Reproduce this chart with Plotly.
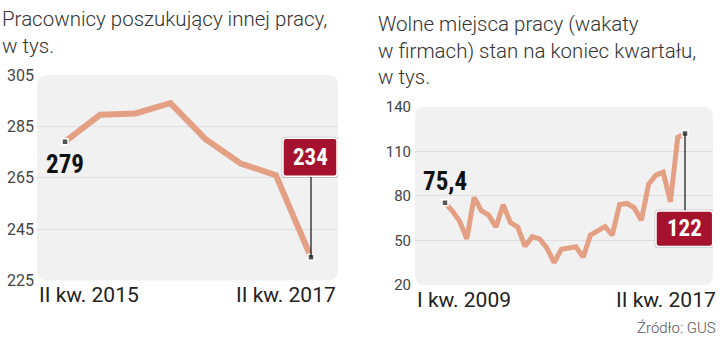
import plotly.graph_objects as go

# ---------------- data ----------------
left_title = "Pracownicy poszukujący innej pracy,<br>w tys."
left_values = [279, 289.5, 290, 294, 280, 270.5, 266, 234]
left_ticks = [225, 245, 265, 285, 305]
left_xlabels = ["II kw. 2015", "II kw. 2017"]
left_first_label = "279"
left_last_label = "234"

right_title = "Wolne miejsca pracy (wakaty<br>w firmach) stan na koniec kwartału,<br>w tys."
right_values = [75.4, 70, 63, 51, 79, 70, 67, 59, 74, 62, 59, 46, 52.5, 51, 45,
                35, 44, 44.7, 45.7, 38.7, 53.6, 56.4, 59.4, 53.6, 74.2, 74.9, 72.1,
                63.6, 88, 94, 96, 76, 119.5, 122]
right_ticks = [20, 50, 80, 110, 140]
right_xlabels = ["I kw. 2009", "II kw. 2017"]
right_first_label = "75,4"
right_last_label = "122"

source = "Źródło: GUS"

# ---------------- style ----------------
W, H = 720, 351
LINE = "#e3a084"
BG = "#f1f1f1"
GRID = "#dedede"
RED = "#a5122d"
TXT = "#333333"
FONT = "Roboto"
LIGHT = "Roboto Light, Roboto"
BOLD = "Roboto Condensed, DejaVu Sans Condensed, Roboto"

def px_x(p):
    return p / W

def px_y(p):
    return (H - p) / H

fig = go.Figure()

lx = list(range(len(left_values)))
rx = list(range(len(right_values)))

fig.add_trace(go.Scatter(x=lx, y=left_values, mode="lines",
                         line=dict(color=LINE, width=6), xaxis="x", yaxis="y",
                         hoverinfo="skip"))
fig.add_trace(go.Scatter(x=[lx[0], lx[-1]], y=[left_values[0], left_values[-1]], mode="markers",
                         marker=dict(symbol="square", size=6, color="#555555",
                                     line=dict(color="white", width=1.5)),
                         xaxis="x", yaxis="y", hoverinfo="skip"))
fig.add_trace(go.Scatter(x=rx, y=right_values, mode="lines",
                         line=dict(color=LINE, width=5), xaxis="x2", yaxis="y2",
                         hoverinfo="skip"))
fig.add_trace(go.Scatter(x=[rx[0], rx[-1]], y=[right_values[0], right_values[-1]], mode="markers",
                         marker=dict(symbol="square", size=6, color="#555555",
                                     line=dict(color="white", width=1.5)),
                         xaxis="x2", yaxis="y2", hoverinfo="skip"))

# axis geometry (pixels)
L_left, L_right, L_top, L_bot = 37, 338, 69.7, 287
R_left, R_right, R_top, R_bot = 415, 713, 103.5, 291.7
L_first_px, L_last_px = 65, 311
R_first_px, R_last_px = 445, 685

def xrange_for(n, first_px, last_px, left_px, right_px):
    step = (last_px - first_px) / (n - 1)
    return [(left_px - first_px) / step, (n - 1) + (right_px - last_px) / step]

axis_common = dict(showline=False, zeroline=False, ticks="", fixedrange=True)

fig.update_layout(
    width=W, height=H, margin=dict(l=0, r=0, t=0, b=0),
    paper_bgcolor="white", plot_bgcolor="rgba(0,0,0,0)",
    showlegend=False,
    xaxis=dict(domain=[px_x(L_left), px_x(L_right)],
               range=xrange_for(len(left_values), L_first_px, L_last_px, L_left, L_right),
               showgrid=False, showticklabels=False, anchor="y", **axis_common),
    yaxis=dict(domain=[px_y(L_bot), px_y(L_top)], range=[left_ticks[0], left_ticks[-1]],
               tickvals=left_ticks, showgrid=True, gridcolor=GRID, gridwidth=1,
               tickfont=dict(family=FONT, size=16, color="#444444"),
               anchor="x", ticklabelstandoff=2, **axis_common),
    xaxis2=dict(domain=[px_x(R_left), px_x(R_right)],
                range=xrange_for(len(right_values), R_first_px, R_last_px, R_left, R_right),
                showgrid=False, showticklabels=False, anchor="y2", **axis_common),
    yaxis2=dict(domain=[px_y(R_bot), px_y(R_top)], range=[right_ticks[0], right_ticks[-1]],
                tickvals=right_ticks, showgrid=True, gridcolor=GRID, gridwidth=1,
                tickfont=dict(family=FONT, size=15, color="#444444"),
                anchor="x2", ticklabelstandoff=3, **axis_common),
)

def rounded_rect(x0, y0, x1, y1, r):
    rx_, ry_ = r / W, r / H
    X0, X1 = px_x(x0), px_x(x1)
    Yt, Yb = px_y(y0), px_y(y1)
    return (f"M {X0+rx_},{Yb} L {X1-rx_},{Yb} Q {X1},{Yb} {X1},{Yb+ry_} "
            f"L {X1},{Yt-ry_} Q {X1},{Yt} {X1-rx_},{Yt} L {X0+rx_},{Yt} "
            f"Q {X0},{Yt} {X0},{Yt-ry_} L {X0},{Yb+ry_} Q {X0},{Yb} {X0+rx_},{Yb} Z")

shapes = [
    dict(type="path", xref="paper", yref="paper", layer="below",
         path=rounded_rect(L_left, L_top, L_right, L_bot, 11), fillcolor=BG, line=dict(width=0)),
    dict(type="path", xref="paper", yref="paper", layer="below",
         path=rounded_rect(R_left, R_top, R_right, R_bot, 11), fillcolor=BG, line=dict(width=0)),
]

def pix_box(x0, y0, x1, y1, r):
    return (f"M {x0+r},{y0} L {x1-r},{y0} Q {x1},{y0} {x1},{y0+r} "
            f"L {x1},{y1-r} Q {x1},{y1} {x1-r},{y1} L {x0+r},{y1} "
            f"Q {x0},{y1} {x0},{y1-r} L {x0},{y0+r} Q {x0},{y0} {x0+r},{y0} Z")

def callout(xref, yref, xa, ya, box, line_to):
    x0, y0, x1, y1 = box
    common = dict(xref=xref, yref=yref, xsizemode="pixel", ysizemode="pixel",
                  xanchor=xa, yanchor=ya, layer="above")
    return [
        dict(type="line", x0=0, x1=0, y0=0, y1=line_to,
             line=dict(color="#111111", width=1.2), **common),
        dict(type="path", path=pix_box(x0 - 1.5, y0 - 1.5, x1 + 1.5, y1 + 1.5, 4),
             fillcolor="rgba(0,0,0,0.18)", line=dict(width=0), **common),
        dict(type="path", path=pix_box(x0, y0, x1, y1, 3),
             fillcolor=RED, line=dict(color="white", width=1.5), **common),
    ]

shapes += callout("x", "y", lx[-1], left_values[-1], (-28, 81, 26, 119), 81)
shapes += callout("x2", "y2", rx[-1], right_values[-1], (-29, -113, 27.7, -77.3), -77.3)
fig.update_layout(shapes=shapes)

ann = []
ann.append(dict(text=left_title, xref="paper", yref="paper", x=0, y=px_y(-4), xanchor="left",
                yanchor="top", align="left", showarrow=False,
                font=dict(family=LIGHT, size=20.5, color=TXT, weight=300)))
ann.append(dict(text=right_title, xref="paper", yref="paper", x=px_x(376), y=px_y(1),
                xanchor="left", yanchor="top", align="left", showarrow=False,
                font=dict(family=LIGHT, size=20.5, color=TXT, weight=300)))
ann.append(dict(text=left_xlabels[0], xref="x domain", yref="paper", x=0, y=px_y(302.5),
                xanchor="left", yanchor="middle", showarrow=False,
                font=dict(family=FONT, size=21, color="#222222")))
ann.append(dict(text=left_xlabels[1], xref="x domain", yref="paper", x=1, y=px_y(302.5),
                xanchor="right", yanchor="middle", showarrow=False,
                font=dict(family=FONT, size=21, color="#222222")))
ann.append(dict(text=right_xlabels[0], xref="x2 domain", yref="paper", x=0, y=px_y(308),
                xanchor="left", yanchor="middle", showarrow=False,
                font=dict(family=FONT, size=21, color="#222222")))
ann.append(dict(text=right_xlabels[1], xref="x2 domain", yref="paper", x=1, y=px_y(308),
                xanchor="right", yanchor="middle", showarrow=False, xshift=5,
                font=dict(family=FONT, size=21, color="#222222")))
ann.append(dict(text=f"<b>{left_first_label}</b>", xref="x", yref="y", x=lx[0], y=left_values[0],
                yshift=-23, showarrow=False, font=dict(family=BOLD, size=25, color="#111111")))
ann.append(dict(text=f"<b>{right_first_label}</b>", xref="x2", yref="y2", x=rx[0], y=right_values[0],
                yshift=21, showarrow=False, font=dict(family=BOLD, size=25, color="#111111")))
ann.append(dict(text=f"<b>{left_last_label}</b>", xref="x", yref="y", x=lx[-1], y=left_values[-1],
                yshift=100, xshift=-1, showarrow=False, font=dict(family=BOLD, size=23, color="white")))
ann.append(dict(text=f"<b>{right_last_label}</b>", xref="x2", yref="y2", x=rx[-1], y=right_values[-1],
                yshift=-95, xshift=-0.5, showarrow=False, font=dict(family=BOLD, size=23, color="white")))
ann.append(dict(text=source, xref="paper", yref="paper", x=px_x(718), y=px_y(337.5),
                xanchor="right", yanchor="middle", showarrow=False,
                font=dict(family=LIGHT, size=15, color="#555555", weight=300)))
fig.update_layout(annotations=ann)

fig.write_html("out.html")
